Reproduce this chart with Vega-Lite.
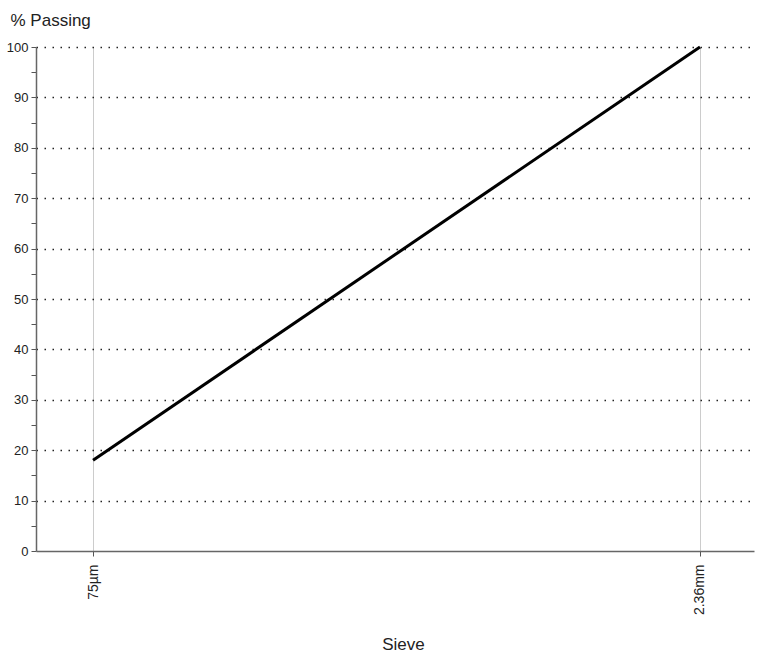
{
  "$schema": "https://vega.github.io/schema/vega-lite/v6.json",
  "width": 718,
  "height": 504,
  "autosize": {"type": "none"},
  "padding": {"left": 36, "top": 47, "right": 5, "bottom": 101},
  "background": "white",
  "config": {
    "view": {"stroke": null},
    "font": "Liberation Sans",
    "axis": {"labelFont": "Liberation Sans", "titleFont": "Liberation Sans", "labelColor": "#222", "titleColor": "#222", "titleFontWeight": "normal"}
  },
  "data": {
    "values": [
      {"sieve": "75µm", "size": 0.075, "passing": 18},
      {"sieve": "2.36mm", "size": 2.36, "passing": 100}
    ]
  },
  "mark": {"type": "line", "color": "#000000", "strokeWidth": 3},
  "encoding": {
    "x": {
      "field": "size",
      "type": "quantitative",
      "scale": {"type": "log", "domain": [0.05423, 3.208]},
      "axis": {
        "title": "Sieve",
        "titleFontSize": 17,
        "titleX": 367,
        "titleY": 98,
        "titleAlign": "center",
        "titleBaseline": "alphabetic",
        "values": [0.075, 2.36],
        "labelExpr": "datum.value < 1 ? '75µm' : '2.36mm'",
        "labelAngle": -90,
        "labelAlign": "right",
        "labelBaseline": "middle",
        "labelFontSize": 14,
        "labelPadding": 8,
        "tickSize": 5,
        "tickColor": "#555",
        "domainColor": "#666",
        "domainWidth": 1.5,
        "grid": true,
        "gridColor": "#cccccc",
        "gridWidth": 1
      }
    },
    "y": {
      "field": "passing",
      "type": "quantitative",
      "scale": {"domain": [0, 100], "nice": false},
      "axis": {
        "title": "% Passing",
        "titleAngle": 0,
        "titleAlign": "left",
        "titleBaseline": "alphabetic",
        "titleX": -26,
        "titleY": -22,
        "titleFontSize": 17,
        "values": [0, 5, 10, 15, 20, 25, 30, 35, 40, 45, 50, 55, 60, 65, 70, 75, 80, 85, 90, 95, 100],
        "labelExpr": "datum.value % 10 == 0 ? datum.label : ''",
        "labelFontSize": 13,
        "labelPadding": 3,
        "tickSize": 5,
        "tickColor": "#555",
        "domainColor": "#666",
        "domainWidth": 1.5,
        "grid": true,
        "gridColor": "#222222",
        "gridWidth": 1.5,
        "gridDash": [1.5, 6.5],
        "gridOpacity": {"condition": {"test": "datum.value % 10 != 0 || datum.value == 0", "value": 0}, "value": 1}
      }
    }
  }
}
